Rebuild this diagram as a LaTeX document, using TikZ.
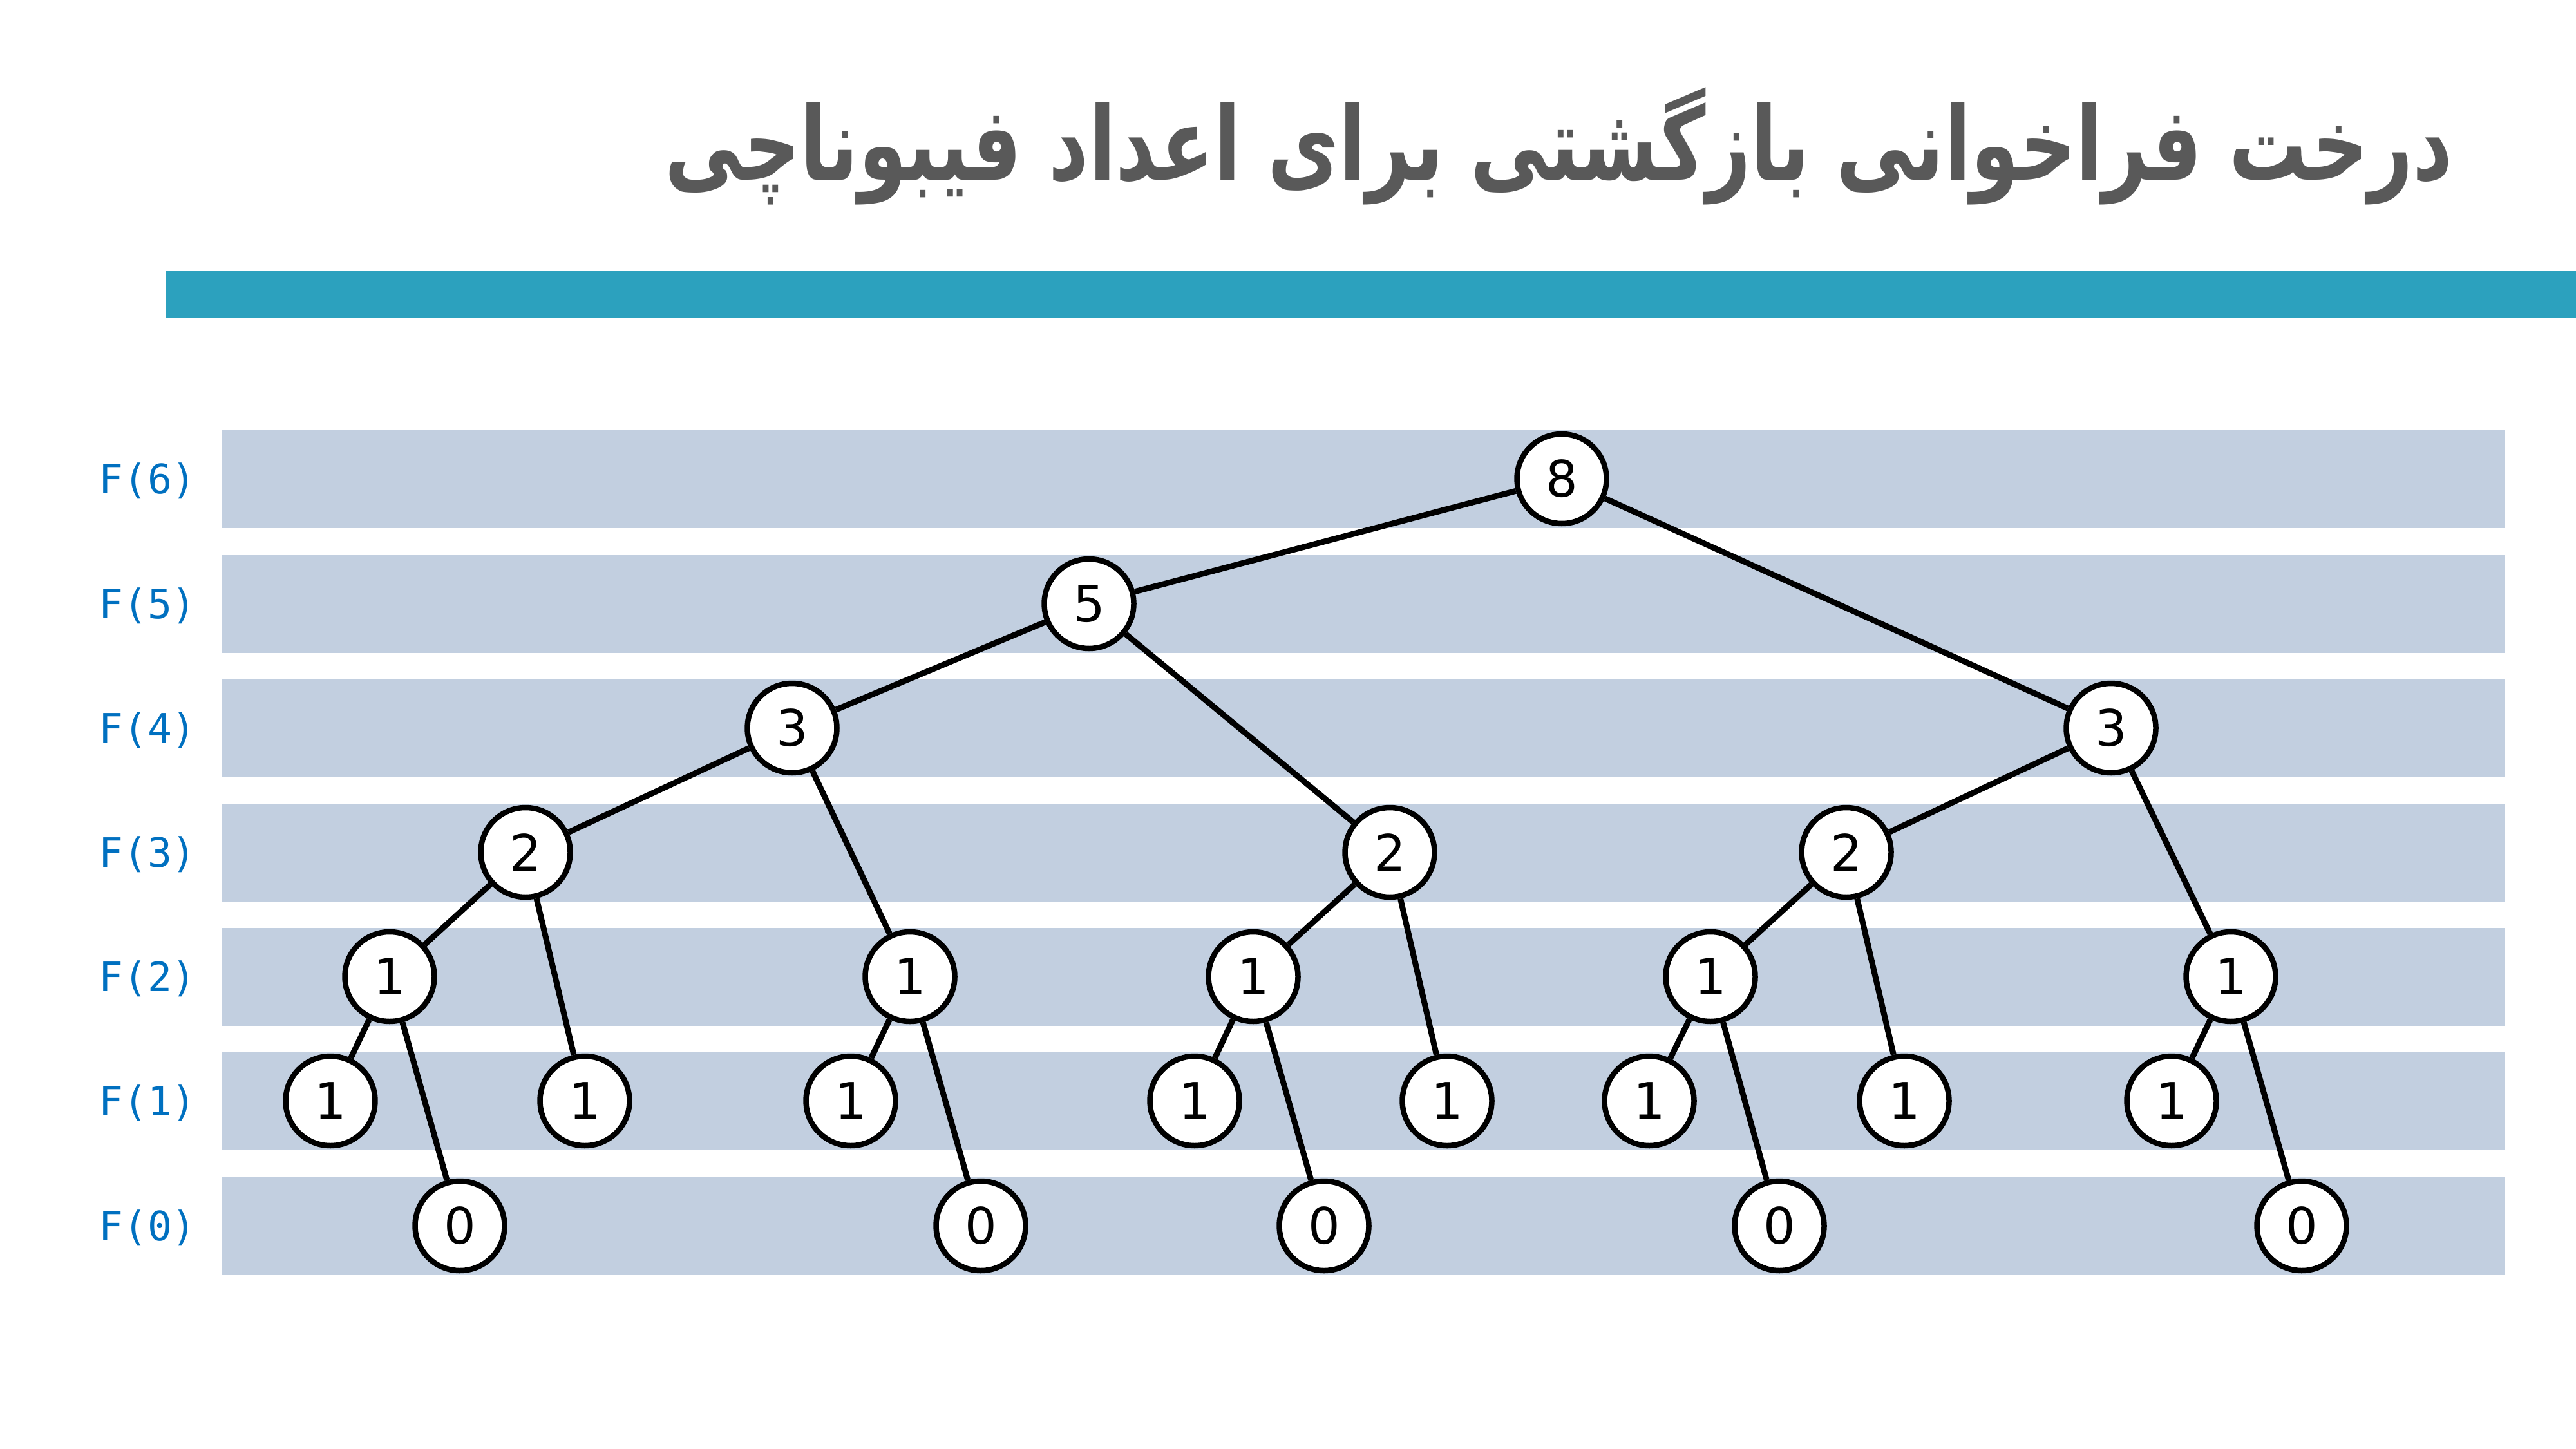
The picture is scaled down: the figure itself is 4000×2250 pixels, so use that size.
\documentclass[tikz,border=0pt]{standalone}
\usepackage{fontspec}
\usepackage{graphicx}
\TeXXeTstate=1
\newfontfamily\arabicfont[Script=Arabic]{DejaVu Sans}
\newfontfamily\numfont{DejaVu Sans}
\newfontfamily\labfont{DejaVu Sans Mono}
\definecolor{bandcol}{RGB}{194,207,224}
\definecolor{barcol}{RGB}{44,161,190}
\definecolor{titlecol}{RGB}{89,89,89}
\definecolor{labcol}{RGB}{0,112,192}
\tikzset{
  band/.style={fill=bandcol, draw=none},
  fnode/.style={circle, draw=black, line width=8.5pt, fill=white, minimum size=139pt, inner sep=0pt, font=\fontsize{78}{90}\selectfont\numfont},
  edge/.style={draw=black, line width=9pt},
  rowlab/.style={anchor=base west, inner sep=0pt, text=labcol, font=\fontsize{63}{70}\selectfont\labfont}
}
\begin{document}
\begin{tikzpicture}[x=1pt,y=-1pt]
\useasboundingbox (0,0) rectangle (4000,2250);
\fill[white] (0,0) rectangle (4000,2250);
% title
\node[anchor=base east, inner sep=0pt, text=titlecol] (title) at (3809,280)
  {\resizebox{2776pt}{\height}{\fontsize{158}{170}\selectfont\arabicfont\bfseries\beginR درخت فراخوانی بازگشتی برای اعداد فیبوناچی\endR}};
% bar
\fill[barcol] (258,421) rectangle (4000,494);
% bands
\foreach \c in {743.5,937.5,1130.5,1323.5,1516.5,1709.5,1903.5}{
  \fill[band] (344,\c-76) rectangle (3890,\c+76);
}
% row labels
\node[rowlab] (l6) at (153,766.5) {F(6)};
\node[rowlab] (l5) at (153,960.5) {F(5)};
\node[rowlab] (l4) at (153,1153.5) {F(4)};
\node[rowlab] (l3) at (153,1346.5) {F(3)};
\node[rowlab] (l2) at (153,1539.5) {F(2)};
\node[rowlab] (l1) at (153,1732.5) {F(1)};
\node[rowlab] (l0) at (153,1926.5) {F(0)};
% nodes
\node[fnode] (n8) at (2425,743.5) {8};
\node[fnode] (n5) at (1691,937.5) {5};
\node[fnode] (n3a) at (1230,1130.5) {3};
\node[fnode] (n3b) at (3278,1130.5) {3};
\node[fnode] (n2a) at (816,1323.5) {2};
\node[fnode] (n2b) at (2158,1323.5) {2};
\node[fnode] (n2c) at (2867,1323.5) {2};
\node[fnode] (a1) at (605,1516.5) {1};
\node[fnode] (a2) at (1413,1516.5) {1};
\node[fnode] (a3) at (1946,1516.5) {1};
\node[fnode] (a4) at (2656,1516.5) {1};
\node[fnode] (a5) at (3464,1516.5) {1};
\node[fnode] (b1) at (513,1709.5) {1};
\node[fnode] (b2) at (908,1709.5) {1};
\node[fnode] (b3) at (1321,1709.5) {1};
\node[fnode] (b4) at (1855,1709.5) {1};
\node[fnode] (b5) at (2247,1709.5) {1};
\node[fnode] (b6) at (2561,1709.5) {1};
\node[fnode] (b7) at (2957,1709.5) {1};
\node[fnode] (b8) at (3372,1709.5) {1};
\node[fnode] (z1) at (714,1903.5) {0};
\node[fnode] (z2) at (1523,1903.5) {0};
\node[fnode] (z3) at (2056,1903.5) {0};
\node[fnode] (z4) at (2763,1903.5) {0};
\node[fnode] (z5) at (3574,1903.5) {0};
% edges
\foreach \p/\q in {n8/n5, n8/n3b, n5/n3a, n5/n2b, n3a/n2a, n3a/a2, n2a/a1, n2a/b2,
  a1/b1, a1/z1, a2/b3, a2/z2, n2b/a3, n2b/b5, a3/b4, a3/z3, n3b/n2c, n3b/a5,
  n2c/a4, n2c/b7, a4/b6, a4/z4, a5/b8, a5/z5}{
  \draw[edge] (\p) -- (\q);
}
\end{tikzpicture}
\end{document}
